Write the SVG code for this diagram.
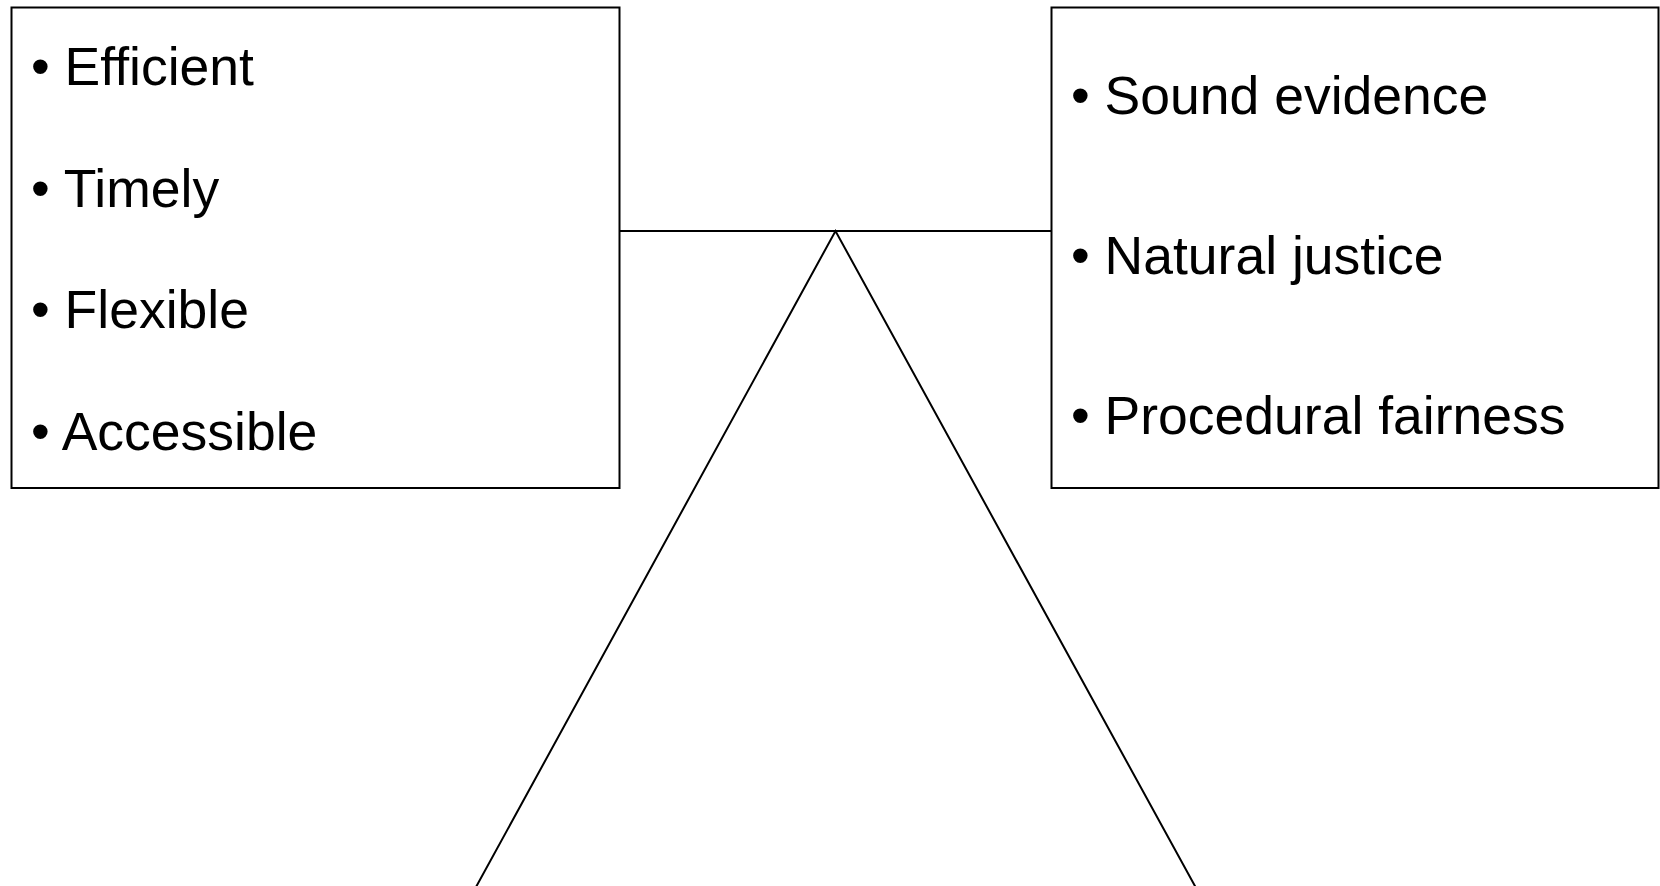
<svg xmlns="http://www.w3.org/2000/svg" width="1660" height="886" viewBox="0 0 1660 886">
<style>
.box{fill:#fff;stroke:#000;stroke-width:2}
.ln{fill:none;stroke:#000;stroke-width:2}
.t{font-family:"Liberation Sans",Arial,sans-serif;font-size:53.5px;fill:#000}
</style>
<rect width="1660" height="886" fill="#fff"/>
<g id="connectors">
<line class="ln" x1="619.5" y1="231" x2="1051.5" y2="231"/>
<polyline class="ln" points="476,887 835.5,231 1195.5,887"/>
</g>
<g id="left-box">
<rect class="box" x="11.5" y="7.5" width="608" height="480.5"/>
<text class="t" x="31" y="85">• Efficient</text>
<text class="t" x="31" y="207">• Timely</text>
<text class="t" x="31" y="328">• Flexible</text>
<text class="t" x="31" y="450">• Accessible</text>
</g>
<g id="right-box">
<rect class="box" x="1051.5" y="7.5" width="607" height="480.5"/>
<text class="t" x="1071" y="114">• Sound evidence</text>
<text class="t" x="1071" y="274">• Natural justice</text>
<text class="t" x="1071" y="434">• Procedural fairness</text>
</g>
</svg>
